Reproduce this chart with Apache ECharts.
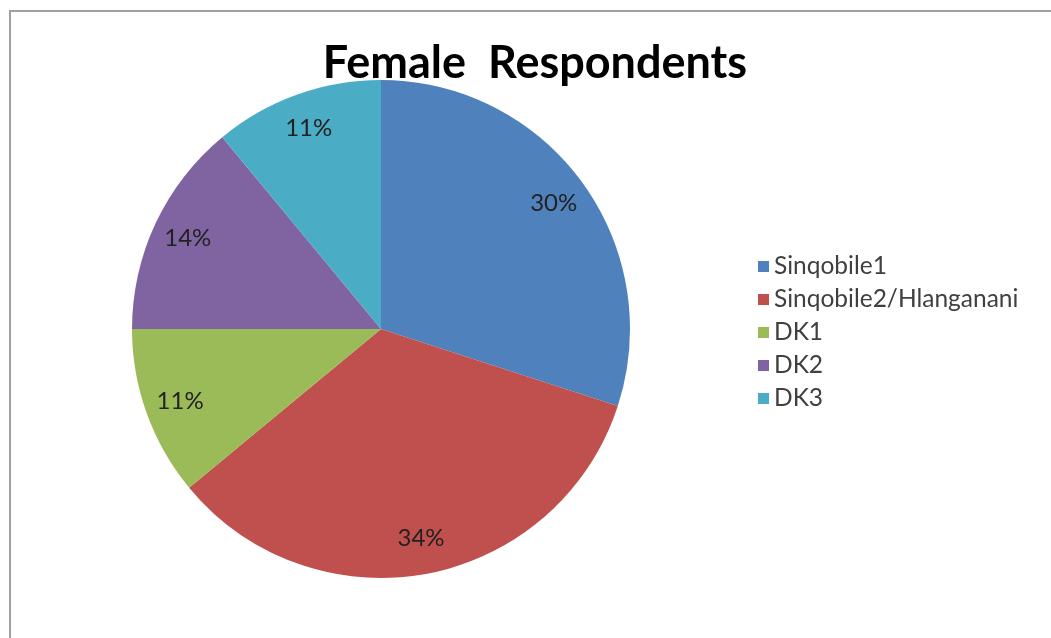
<!DOCTYPE html>
<html><head><meta charset="utf-8">
<script src="https://cdn.jsdelivr.net/npm/echarts@6/dist/echarts.min.js"></script>
<style>html,body{margin:0;padding:0;background:#fff}#c{width:1051px;height:638px}</style>
</head><body><div id="c"></div>
<script>
const categories = ['Sinqobile1', 'Sinqobile2/Hlanganani', 'DK1', 'DK2', 'DK3'];
const values = [30, 34, 11, 14, 11];
const colors = ['#4F81BD', '#C0504D', '#9BBB59', '#8064A2', '#4BACC6'];
const titleText = 'Female  Respondents';

const data = categories.map((n, i) => ({ name: n, value: values[i], itemStyle: { color: colors[i] } }));
const chart = echarts.init(document.getElementById('c'));
chart.setOption({
  backgroundColor: '#fff',
  animation: false,
  title: {
    text: titleText, left: 530, top: 36, textAlign: 'center',
    textStyle: { fontFamily: 'Lato', fontWeight: 'bold', fontSize: 45, color: '#000' }
  },
  legend: {
    orient: 'vertical', left: 753, top: 249, icon: 'rect', itemWidth: 11, itemHeight: 11,
    itemGap: 8, data: categories,
    textStyle: { fontFamily: 'Lato', fontSize: 24.5, color: '#404040', lineHeight: 24 }
  },
  graphic: [{
    type: 'rect', shape: { x: 10, y: 11, width: 1200, height: 800 },
    style: { fill: 'none', stroke: '#a0a0a0', lineWidth: 2 }, silent: true
  }],
  series: [{
    type: 'pie', center: [381, 329], radius: [0, 249], startAngle: 90, clockwise: true,
    label: { show: false }, labelLine: { show: false }, data: data, emphasis: { disabled: true }
  }, {
    type: 'pie', center: [381, 329], radius: [172, 249], startAngle: 90, clockwise: true, silent: true,
    itemStyle: { color: 'rgba(0,0,0,0)' }, emphasis: { disabled: true },
    label: { show: true, position: 'inside', formatter: '{d}%', fontFamily: 'Lato', fontSize: 24, color: '#222' },
    labelLine: { show: false },
    data: categories.map((n, i) => ({ name: n, value: values[i] }))
  }]
});
</script></body></html>
